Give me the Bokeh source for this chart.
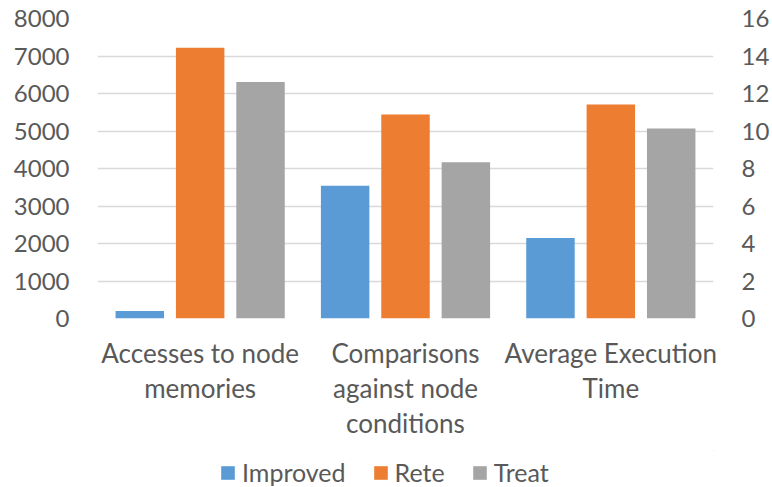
from bokeh.plotting import figure
from bokeh.layouts import column
from bokeh.models import (FactorRange, Range1d, LinearAxis, Legend, LegendItem,
                          ColumnDataSource, FixedTicker)
from bokeh.transform import dodge
from bokeh.embed import file_html
from bokeh.resources import INLINE

categories = ["Accesses to node\nmemories", "Comparisons\nagainst node\nconditions", "Average Execution\nTime"]
series = ["Improved", "Rete", "Treat"]
colors = ["#5B9BD5", "#ED7D31", "#A5A5A5"]

# first two categories: counts (left axis)
improved_counts = [200, 3540]
rete_counts = [7220, 5440]
treat_counts = [6310, 4170]
# third category: execution time (right axis)
improved_time = [4.30]
rete_time = [11.41]
treat_time = [10.13]

left_ticks = [0, 1000, 2000, 3000, 4000, 5000, 6000, 7000, 8000]
right_ticks = [0, 2, 4, 6, 8, 10, 12, 14, 16]

FONT = "Lato"
TXT = "#595959"

p = figure(x_range=FactorRange(*categories, range_padding=0), y_range=Range1d(0, 8000),
           width=772, height=450, output_backend="svg", toolbar_location=None,
           min_border_left=97, min_border_right=53, min_border_top=18, min_border_bottom=132)
p.extra_y_ranges = {"time": Range1d(0, 16)}

src_counts = ColumnDataSource(dict(cat=categories[:2], Improved=improved_counts,
                                   Rete=rete_counts, Treat=treat_counts))
src_time = ColumnDataSource(dict(cat=categories[2:], Improved=improved_time,
                                 Rete=rete_time, Treat=treat_time))

offsets = [-0.294, 0.0, 0.294]
bw = 0.236
for s, c, off in zip(series, colors, offsets):
    p.vbar(x=dodge("cat", off, range=p.x_range), top=s, width=bw, source=src_counts,
           fill_color=c, line_color=None)
    p.vbar(x=dodge("cat", off, range=p.x_range), top=s, width=bw, source=src_time,
           fill_color=c, line_color=None, y_range_name="time")

p.yaxis[0].ticker = FixedTicker(ticks=left_ticks)
ra = LinearAxis(y_range_name="time", ticker=FixedTicker(ticks=right_ticks))
p.add_layout(ra, "right")

for ax in p.yaxis + p.xaxis:
    ax.axis_line_color = None
    ax.major_tick_line_color = None
    ax.minor_tick_line_color = None
    ax.major_label_text_font = FONT
    ax.major_label_text_color = TXT
    ax.major_label_text_font_size = "24px"
p.yaxis[0].major_label_standoff = 22
ra.major_label_standoff = 22
p.xaxis.major_label_text_font_size = "26px"
p.xaxis.major_label_text_line_height = 1.1
p.xaxis.major_label_standoff = 12

p.xgrid.grid_line_color = None
p.ygrid.grid_line_color = "#D9D9D9"
p.ygrid.grid_line_width = 1.3
p.outline_line_color = None

# legend strip (its frame is aligned with the main frame by the column layout)
lf = figure(width=772, height=37, output_backend="svg", toolbar_location=None,
            x_range=Range1d(0, 1), y_range=Range1d(0, 1),
            x_axis_location=None, y_axis_location=None,
            min_border_left=0, min_border_right=0, min_border_top=0, min_border_bottom=0)
lf.xgrid.grid_line_color = None
lf.ygrid.grid_line_color = None
lf.outline_line_color = None
items = []
for s, c in zip(series, colors):
    r = lf.vbar(x=[5], top=[5], bottom=[4], width=0.1, fill_color=c, line_color=None)
    items.append(LegendItem(label=s, renderers=[r]))
legend = Legend(items=items, orientation="horizontal", location=(122, 0),
                label_text_font=FONT, label_text_color=TXT, label_text_font_size="25px",
                glyph_width=17, glyph_height=17, spacing=26, label_standoff=6,
                border_line_color=None, background_fill_alpha=0, padding=0, margin=0)
lf.add_layout(legend, "center")

layout = column(p, lf, spacing=0)
open("out.html", "w").write(file_html(layout, INLINE))
